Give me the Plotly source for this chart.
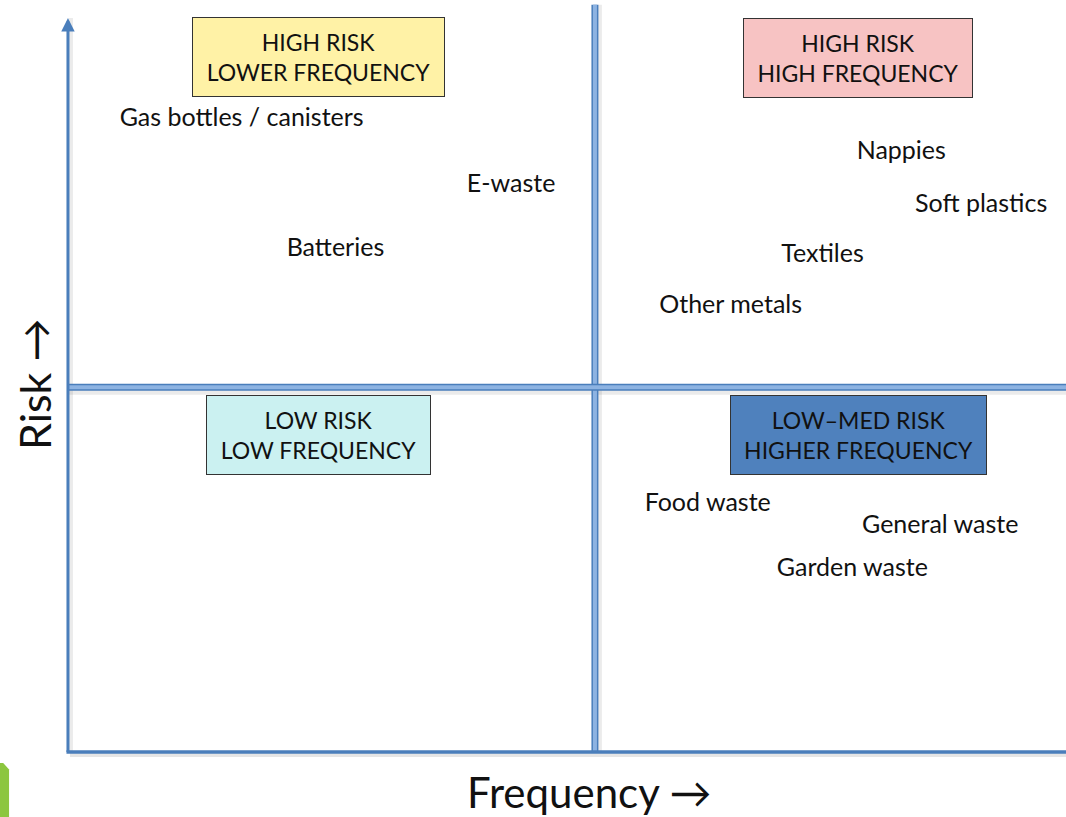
import plotly.graph_objects as go

# ---- data ----
items = ["Gas bottles / canisters", "E-waste", "Batteries", "Nappies", "Soft plastics",
         "Textiles", "Other metals", "Food waste", "General waste", "Garden waste"]
frequency = [1.74, 4.44, 2.68, 8.35, 9.15, 7.56, 6.64, 6.41, 8.74, 7.86]
risk = [8.61, 7.72, 6.84, 8.16, 7.44, 6.76, 6.06, 3.37, 3.07, 2.48]

quadrant_labels = ["HIGH RISK<br>LOWER FREQUENCY", "HIGH RISK<br>HIGH FREQUENCY",
                   "LOW RISK<br>LOW FREQUENCY", "LOW\u2013MED RISK<br>HIGHER FREQUENCY"]
quadrant_freq = [2.515, 7.92, 2.515, 7.92]
quadrant_risk = [9.47, 9.455, 4.32, 4.32]
quadrant_fill = ["#fff2a6", "#f7c3c3", "#cbf1f1", "#4f81bd"]
quadrant_w = [249, 226, 221, 253]

FREQ_MAX = 10.0
RISK_MAX = 10.0
FREQ_SPLIT = 5.28
RISK_SPLIT = 4.97

FONT = "Lato"
AXIS_BLUE = "#4a7ebb"
LIGHT_BLUE = "#8db3e2"

fig = go.Figure()
fig.add_trace(go.Scatter(
    x=frequency, y=risk, mode="text", text=items,
    textfont=dict(family=FONT, size=25, color="#111111"),
    hoverinfo="skip", showlegend=False))

shapes = []
def line(x0, y0, x1, y1, color, width):
    shapes.append(dict(type="line", xref="x", yref="y", x0=x0, y0=y0, x1=x1, y1=y1,
                       line=dict(color=color, width=width)))

# shadows
line(FREQ_SPLIT + 0.03, 0, FREQ_SPLIT + 0.03, 10.18, "rgba(0,0,0,0.08)", 8)
line(0, RISK_SPLIT - 0.05, FREQ_MAX, RISK_SPLIT - 0.05, "rgba(0,0,0,0.08)", 8)
line(0.02, -0.04, FREQ_MAX, -0.04, "rgba(0,0,0,0.10)", 4)
line(0.03, 0, 0.03, RISK_MAX, "rgba(0,0,0,0.08)", 4)
# divider lines
line(FREQ_SPLIT, 0, FREQ_SPLIT, 10.18, AXIS_BLUE, 7)
line(FREQ_SPLIT, 0, FREQ_SPLIT, 10.18, LIGHT_BLUE, 4)
line(0, RISK_SPLIT, FREQ_MAX, RISK_SPLIT, AXIS_BLUE, 7)
line(0, RISK_SPLIT, FREQ_MAX, RISK_SPLIT, LIGHT_BLUE, 4)
# bottom axis
line(-0.015, 0, FREQ_MAX, 0, AXIS_BLUE, 3.5)

# green corner object
shapes.append(dict(type="path", xref="paper", yref="paper",
                   path="M 0 0 L 0.0085 0 L 0.0085 0.058 L 0.003 0.066 L 0 0.066 Z",
                   fillcolor="#8cc63f", line=dict(width=0)))

annotations = []
# left axis with arrow
annotations.append(dict(x=0, y=RISK_MAX, ax=0, ay=-0.02, xref="x", yref="y", axref="x", ayref="y",
                        showarrow=True, arrowhead=2, arrowsize=0.9, arrowwidth=3,
                        arrowcolor=AXIS_BLUE, text=""))

for lab, fx, ry, fill, w in zip(quadrant_labels, quadrant_freq, quadrant_risk, quadrant_fill, quadrant_w):
    annotations.append(dict(x=fx, y=ry, xref="x", yref="y", text=lab, showarrow=False,
                            font=dict(family=FONT, size=23, color="#111111"),
                            bgcolor=fill, bordercolor="#333333", borderwidth=1,
                            width=w, height=76, align="center", valign="middle"))

annotations.append(dict(x=-0.33, y=5.0, xref="x", yref="y", text="Risk \u2192", textangle=-90,
                        showarrow=False, font=dict(family=FONT, size=43, color="#111111")))
annotations.append(dict(x=5.23, y=-0.55, xref="x", yref="y", text="Frequency \u2192",
                        showarrow=False, font=dict(family=FONT, size=42, color="#111111")))

fig.update_layout(
    width=1066, height=817, margin=dict(l=0, r=0, t=0, b=0),
    paper_bgcolor="white", plot_bgcolor="white",
    xaxis=dict(range=[-0.681, FREQ_MAX], visible=False, fixedrange=True),
    yaxis=dict(range=[-0.886, 10.245], visible=False, fixedrange=True),
    shapes=shapes, annotations=annotations, showlegend=False)

fig.write_html("out.html", config={"displayModeBar": False},
               post_script="document.body.style.margin='0';document.body.style.overflow='hidden';")
